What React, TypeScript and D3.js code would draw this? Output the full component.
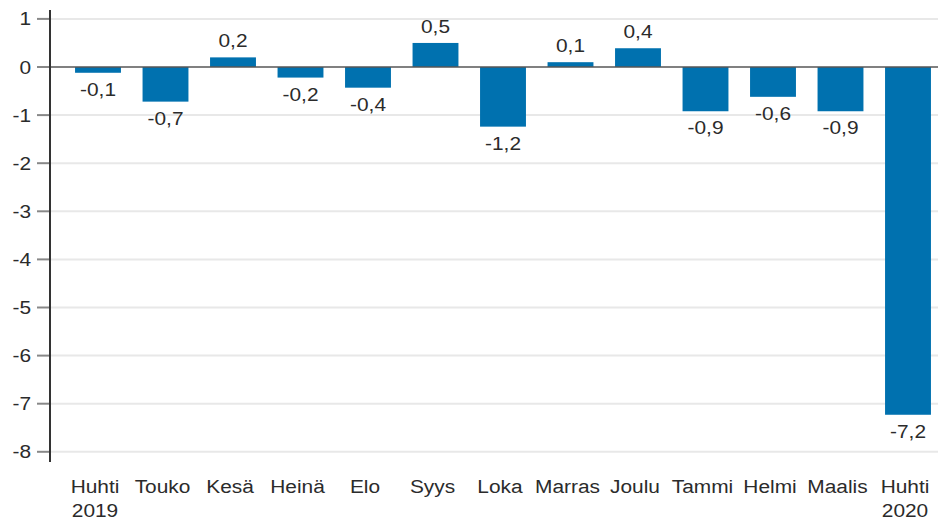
import React from "react";
import * as d3 from "d3";

const categories = ["Huhti\n2019", "Touko", "Kesä", "Heinä", "Elo", "Syys", "Loka", "Marras", "Joulu", "Tammi", "Helmi", "Maalis", "Huhti\n2020"];
const values = [-0.12, -0.72, 0.2, -0.22, -0.43, 0.5, -1.24, 0.1, 0.39, -0.92, -0.62, -0.92, -7.23];
const yTicks = [1, 0, -1, -2, -3, -4, -5, -6, -7, -8];

const W = 938;
const H = 521;
const FONT = "'Liberation Sans', Arial, sans-serif";
const SX = 1.16;

export default function App() {
  const y = d3.scaleLinear().domain([0, -8]).range([67, 451.8]);
  const x = d3
    .scaleBand<string>()
    .domain(categories)
    .range([64.25, 941.75])
    .paddingInner(0.32)
    .paddingOuter(0.16);
  const fmt = (v: number) => d3.format(".1f")(v).replace(".", ",").replace("−", "-");

  const T = (props: { x: number; y: number; text: string; anchor?: string; size?: number }) => (
    <g transform={`translate(${props.x},${props.y}) scale(${SX},1)`}>
      <text
        textAnchor={(props.anchor as any) || "middle"}
        fontFamily={FONT}
        fontSize={props.size || 18}
        fill="#2b2b2b"
      >
        {props.text}
      </text>
    </g>
  );

  return (
    <svg
      width={W}
      height={H}
      style={{ position: "absolute", left: 0, top: 0, background: "#fff" }}
    >
      {yTicks.map((t) =>
        t !== 0 ? (
          <line key={"g" + t} x1={50} x2={W} y1={y(t)} y2={y(t)} stroke="#e8e8e8" strokeWidth={2} />
        ) : null
      )}
      {values.map((v, i) => {
        const c = categories[i];
        const y0 = y(Math.max(0, v));
        const y1 = y(Math.min(0, v));
        return (
          <rect
            key={"b" + i}
            x={x(c)}
            y={y0}
            width={x.bandwidth()}
            height={y1 - y0}
            fill="#0071af"
          />
        );
      })}
      <line x1={50} x2={W} y1={y(0)} y2={y(0)} stroke="#555" strokeOpacity={0.75} strokeWidth={2} />
      {yTicks.map((t) => (
        <g key={"t" + t}>
          <line x1={37} x2={50} y1={y(t)} y2={y(t)} stroke="#888" strokeWidth={2} />
          <T x={31} y={y(t) + 6.5} text={String(t)} anchor="end" />
        </g>
      ))}
      <line x1={50} x2={50} y1={10} y2={462} stroke="#333" strokeWidth={2} />
      {values.map((v, i) => {
        const cx = (x(categories[i]) as number) + x.bandwidth() / 2;
        const ly = v >= 0 ? y(v) - 10 : y(v) + 23;
        return <T key={"v" + i} x={cx} y={ly} text={fmt(v)} />;
      })}
      {categories.map((c, i) => {
        const cx = (x(c) as number) + x.bandwidth() / 2 - 3;
        const lines = c.split("\n");
        return (
          <g key={"c" + i}>
            {lines.map((l, j) => (
              <T key={j} x={cx} y={493 + j * 24} text={l} />
            ))}
          </g>
        );
      })}
    </svg>
  );
}
